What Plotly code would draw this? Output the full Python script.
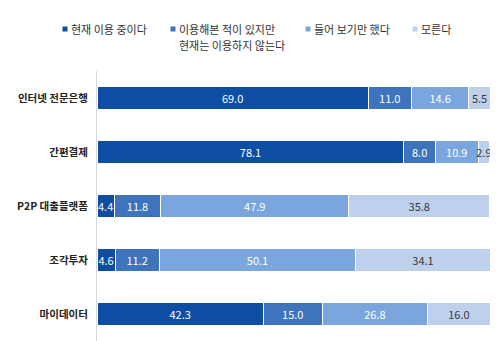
import plotly.graph_objects as go

categories = ["인터넷 전문은행", "간편결제", "P2P 대출플랫폼", "조각투자", "마이데이터"]
series_names = ["현재 이용 중이다", "이용해본 적이 있지만<br>현재는 이용하지 않는다", "들어 보기만 했다", "모른다"]
using_now = [69.0, 78.1, 4.4, 4.6, 42.3]
used_before = [11.0, 8.0, 11.8, 11.2, 15.0]
heard_only = [14.6, 10.9, 47.9, 50.1, 26.8]
unknown = [5.5, 2.9, 35.8, 34.1, 16.0]

colors = ["#0D4EA3", "#3D74BD", "#7AA6DD", "#BDD1ED"]
text_colors = ["white", "white", "white", "#3a3a3a"]
values = [using_now, used_before, heard_only, unknown]

FONT = "Noto Sans CJK KR"

fig = go.Figure()
for name, vals, c, tc in zip(series_names, values, colors, text_colors):
    fig.add_trace(go.Bar(
        y=categories, x=vals, name=name.replace("<br>", " "), orientation="h",
        marker=dict(color=c, line=dict(color="white", width=1)),
        texttemplate="%{x:.1f}", textposition="inside",
        insidetextanchor="middle", constraintext="none",
        textfont=dict(color=tc, size=11, family=FONT),
        showlegend=False,
    ))

fig.update_layout(
    barmode="stack",
    bargap=0.59,
    width=500, height=341,
    margin=dict(l=97, r=10, t=71, b=0),
    paper_bgcolor="white", plot_bgcolor="white",
    font=dict(family=FONT, color="#222"),
    xaxis=dict(range=[0, 100], visible=False, fixedrange=True),
    yaxis=dict(autorange="reversed", showline=True, linecolor="#d9d9d9", linewidth=1,
               ticks="", showgrid=False, ticklabelstandoff=6,
               tickfont=dict(size=10.5, color="#222", family=FONT, weight="bold")),
)

# legend built from annotations (pixel positions converted to paper coords)
plot_top, plot_h, plot_left, plot_w = 71, 270, 97, 393
def px(x):
    return (x - plot_left) / plot_w
def py(y):
    return (plot_top + plot_h - y) / plot_h

legend_x = [65, 173, 308, 415]
line_y = [29, 44.5]
for name, c, mx in zip(series_names, colors, legend_x):
    fig.add_shape(type="rect", xref="paper", yref="paper",
                  x0=px(mx - 2.5), x1=px(mx + 2.5), y0=py(31.5), y1=py(26.5),
                  fillcolor=c, line=dict(width=0))
    for i, part in enumerate(name.split("<br>")):
        fig.add_annotation(text=part, xref="paper", yref="paper",
                           x=px(mx + 4), y=py(line_y[i]), xanchor="left", yanchor="middle",
                           align="left", showarrow=False,
                           font=dict(size=11, color="#333", family=FONT))

fig.write_html("out.html")
